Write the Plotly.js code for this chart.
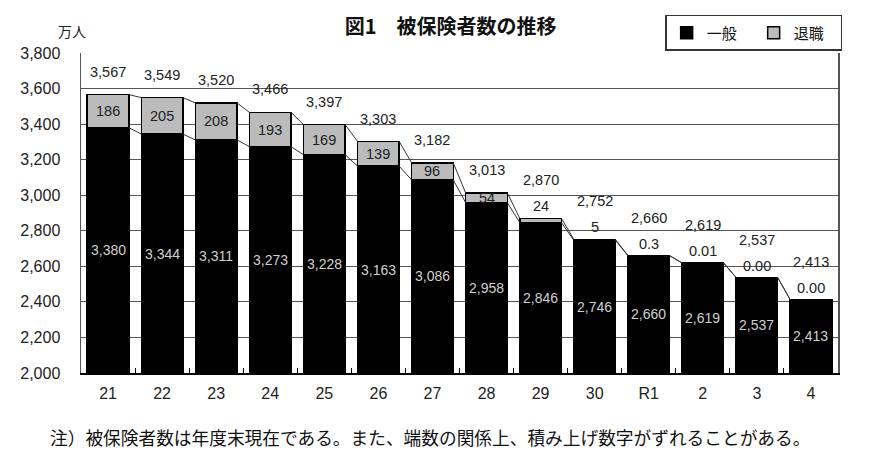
<!DOCTYPE html>
<html>
<head>
<meta charset="utf-8">
<script src="https://cdn.plot.ly/plotly-3.0.1.min.js"></script>
<style>
  html, body { margin: 0; padding: 0; background: #fff; }
  #chart { width: 870px; height: 454px; }
</style>
</head>
<body>
<div id="chart"></div>
<script>
// 年度
var years = ['21', '22', '23', '24', '25', '26', '27', '28', '29', '30', 'R1', '2', '3', '4'];
// 一般 (万人)
var general = [3380, 3344, 3311, 3273, 3228, 3163, 3086, 2958, 2846, 2746, 2660, 2619, 2537, 2413];
// 退職 (万人)
var retired = [186, 205, 208, 193, 169, 139, 96, 54, 24, 5, 0.3, 0.01, 0.00, 0.00];
var retiredLabels = ['186', '205', '208', '193', '169', '139', '96', '54', '24', '5', '0.3', '0.01', '0.00', '0.00'];
// 合計 (万人)
var totals = [3567, 3549, 3520, 3466, 3397, 3303, 3182, 3013, 2870, 2752, 2660, 2619, 2537, 2413];

var yMin = 2000;
var halfBar = 0.385;
var numFont = 'Liberation Sans, Arial, sans-serif';
var jpFont = 'Noto Sans CJK JP, sans-serif';

function fmt(v) {
  return v.toLocaleString('en-US');
}

var traces = [
  {
    type: 'bar',
    name: '一般',
    x: years,
    y: general,
    marker: {color: '#000000', line: {color: '#000000', width: 1.5}},
    hoverinfo: 'none'
  },
  {
    type: 'bar',
    name: '退職',
    x: years,
    y: retired,
    marker: {color: '#bbbbbb', line: {color: '#000000', width: 1.5}},
    hoverinfo: 'none'
  }
];

// connectors between neighbouring bars (top of 一般 and top of total)
function connector(vals) {
  var xs = [], ys = [];
  for (var i = 0; i < vals.length - 1; i++) {
    xs.push(i + halfBar, i + 1 - halfBar, null);
    ys.push(vals[i], vals[i + 1], null);
  }
  return {
    type: 'scatter', mode: 'lines', x: xs, y: ys, xaxis: 'x2',
    line: {color: '#333333', width: 1}, showlegend: false, hoverinfo: 'none'
  };
}
traces.push(connector(general));
var stackTop = general.map(function (g, i) { return g + retired[i]; });
traces.push(connector(stackTop));

var annotations = [];
years.forEach(function (yr, i) {
  // 一般 value, middle of the visible black bar (x given as category index)
  annotations.push({
    x: i, y: (yMin + general[i]) / 2, text: fmt(general[i]),
    showarrow: false, font: {family: numFont, size: 14, color: '#d0d0d0'}
  });
  var inside = retired[i] >= 50;
  annotations.push({
    x: i,
    y: inside ? general[i] + retired[i] / 2 : stackTop[i],
    yshift: inside ? 0 : 12,
    text: retiredLabels[i],
    showarrow: false, font: {family: numFont, size: 14.5, color: '#222222'}
  });
  annotations.push({
    x: i, y: stackTop[i], yshift: inside ? 23 : 38,
    text: fmt(totals[i]),
    showarrow: false, font: {family: numFont, size: 14.5, color: '#222222'}
  });
});

annotations.push({
  xref: 'paper', yref: 'paper', x: -0.012, y: 1.03, xanchor: 'center', yanchor: 'bottom',
  text: '万人', showarrow: false, font: {family: jpFont, size: 14, color: '#222'}
});
annotations.push({
  xref: 'paper', yref: 'paper', x: -0.044, y: -0.2, xanchor: 'left', yanchor: 'middle',
  text: '注）被保険者数は年度末現在である。また、端数の関係上、積み上げ数字がずれることがある。',
  showarrow: false, font: {family: jpFont, size: 17.7, color: '#111'}
});

var layout = {
  width: 870,
  height: 454,
  margin: {l: 81, r: 32, t: 53, b: 81},
  paper_bgcolor: '#ffffff',
  plot_bgcolor: '#ffffff',
  barmode: 'stack',
  bargap: 0.23,
  title: {
    text: '<b>図1　被保険者数の推移</b>',
    x: 0.518, xanchor: 'center', y: 0.94, yanchor: 'middle',
    font: {family: jpFont, size: 20, color: '#111'}
  },
  showlegend: true,
  legend: {
    orientation: 'h',
    xref: 'container', yref: 'container',
    x: 0.968, xanchor: 'right', y: 0.967, yanchor: 'top',
    bordercolor: '#333', borderwidth: 1.5,
    entrywidth: 42,
    itemwidth: 30,
    font: {family: jpFont, size: 15, color: '#111'},
    traceorder: 'normal'
  },
  xaxis: {
    type: 'category',
    range: [-0.5, years.length - 0.5],
    showline: true, linecolor: '#000', linewidth: 1.5,
    mirror: false,
    ticks: 'inside', tickson: 'boundaries', ticklen: 5, tickcolor: '#000',
    ticklabelstandoff: 5,
    showgrid: false,
    tickfont: {family: numFont, size: 16, color: '#222'}
  },
  xaxis2: {
    overlaying: 'x', type: 'linear',
    range: [-0.5, years.length - 0.5],
    visible: false
  },
  yaxis: {
    range: [yMin, 3800],
    dtick: 200,
    tickformat: ',d',
    showline: true, linecolor: '#555', linewidth: 1.5, mirror: true,
    ticks: '',
    ticklabelstandoff: 16,
    showgrid: true, gridcolor: '#555', gridwidth: 1.2,
    zeroline: false,
    tickfont: {family: numFont, size: 16, color: '#222'}
  },
  annotations: annotations
};

Plotly.newPlot('chart', traces, layout, {displayModeBar: false, staticPlot: true});
</script>
</body>
</html>
